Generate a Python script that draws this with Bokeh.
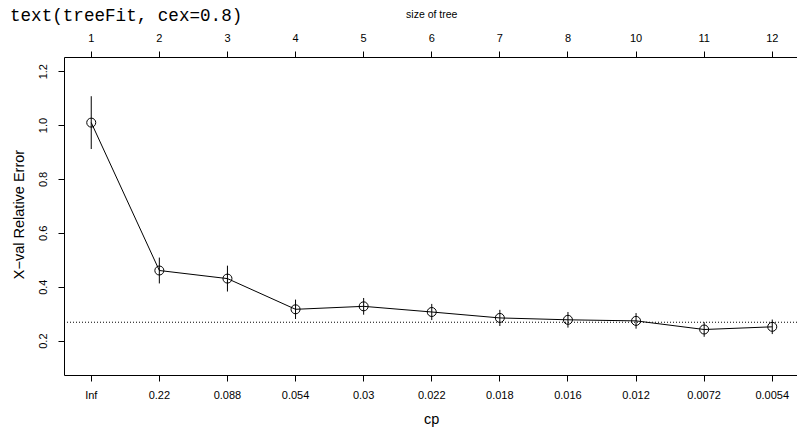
import math
from bokeh.plotting import figure
from bokeh.models import Range1d, FixedTicker, LinearAxis
from bokeh.core.properties import value
from bokeh.embed import file_html
from bokeh.resources import INLINE

# ---- data (rpart plotcp) ----
cp_labels = ["Inf", "0.22", "0.088", "0.054", "0.03", "0.022", "0.018",
             "0.016", "0.012", "0.0072", "0.0054"]
tree_size = ["1", "2", "3", "4", "5", "6", "7", "8", "10", "11", "12"]
xerror = [1.011, 0.462, 0.432, 0.318, 0.329, 0.308, 0.286, 0.279, 0.275, 0.243, 0.253]
xstd = [0.098, 0.048, 0.048, 0.036, 0.031, 0.030, 0.030, 0.029, 0.029, 0.027, 0.027]
y_ticks = [0.2, 0.4, 0.6, 0.8, 1.0, 1.2]
y_tick_labels = ["0.2", "0.4", "0.6", "0.8", "1.0", "1.2"]
title_text = "text(treeFit, cex=0.8)"
x_title = "cp"
y_title = "X\u2212val Relative Error"
top_title = "size of tree"

pos = list(range(1, len(cp_labels) + 1))
upper = [e + s for e, s in zip(xerror, xstd)]
lower = [e - s for e, s in zip(xerror, xstd)]

# plot region as R computes it (plotcp ylim, 4% axis extension)
ylo = min(lower) - 0.1
yhi = max(upper) + 0.1
ypad = 0.04 * (yhi - ylo)
y_usr = (ylo - ypad, yhi + ypad)
xpad = 0.04 * (pos[-1] - pos[0])
x_usr = (pos[0] - xpad, pos[-1] + xpad)
imin = xerror.index(min(xerror))
threshold = xerror[imin] + xstd[imin]

# device layout (pixels): canvas and R's plot-region box
W, H = 797, 428
BOX_L, BOX_R, BOX_T, BOX_B = 63.5, 799.0, 57.0, 375.0
sx = (BOX_R - BOX_L) / (x_usr[1] - x_usr[0])
sy = (BOX_B - BOX_T) / (y_usr[1] - y_usr[0])
x_range = Range1d(x_usr[0] - BOX_L / sx, x_usr[0] + (W - BOX_L) / sx)
y_range = Range1d(y_usr[0] - (H - BOX_B) / sy, y_usr[1] + BOX_T / sy)

SANS = "Liberation Sans"
MONO = "Liberation Mono"

p = figure(width=W, height=H, output_backend="svg", toolbar_location=None,
           x_range=x_range, y_range=y_range, min_border=0,
           outline_line_color=None)
p.xgrid.visible = False
p.ygrid.visible = False
p.background_fill_color = "white"
p.border_fill_color = "white"


def style_axis(ax, standoff):
    ax.axis_line_color = "black"
    ax.axis_line_width = 1
    ax.major_tick_line_color = "black"
    ax.major_tick_out = 6
    ax.major_tick_in = 0
    ax.minor_tick_line_color = None
    ax.major_label_text_font = SANS
    ax.major_label_text_font_size = "11px"
    ax.major_label_text_color = "black"
    ax.major_label_standoff = standoff


# bottom axis (cp), drawn along the bottom of R's box
xa = p.xaxis[0]
style_axis(xa, 7)
xa.ticker = FixedTicker(ticks=pos)
xa.major_label_overrides = {i: l for i, l in zip(pos, cp_labels)}
xa.fixed_location = y_usr[0]
xa.bounds = x_usr

# left axis
ya = p.yaxis[0]
style_axis(ya, 11)
ya.ticker = FixedTicker(ticks=y_ticks)
ya.major_label_overrides = {t: l for t, l in zip(y_ticks, y_tick_labels)}
ya.major_label_orientation = "vertical"
ya.fixed_location = x_usr[0]
ya.bounds = y_usr

# top axis (size of tree)
ta = LinearAxis()
style_axis(ta, 10)
ta.ticker = FixedTicker(ticks=pos)
ta.major_label_overrides = {i: l for i, l in zip(pos, tree_size)}
ta.fixed_location = y_usr[1]
ta.bounds = x_usr
p.add_layout(ta, "above")

# dotted 1-SE reference line across the plot region
p.segment(x0=[x_usr[0]], y0=[threshold], x1=[x_usr[1]], y1=[threshold],
          line_color="black", line_width=1, line_dash="1 2")

# error bars, line and points
p.segment(x0=pos, y0=lower, x1=pos, y1=upper, line_color="black", line_width=1)
p.line(pos, xerror, line_color="black", line_width=1)
p.scatter(pos, xerror, marker="circle", size=9, fill_color=None,
          line_color="black", line_width=1)

# axis titles
xmid = (x_usr[0] + x_usr[1]) / 2
ymid = (y_usr[0] + y_usr[1]) / 2
p.text(x=[xmid], y=[y_usr[0]], text=[x_title], y_offset=43.8,
       text_font=value(SANS), text_font_size=value("14.5px"),
       text_color="black", text_align="center", text_baseline="alphabetic")
p.text(x=[x_usr[0]], y=[ymid], text=[y_title], x_offset=-45.5, y_offset=-2,
       angle=math.pi / 2, text_font=value(SANS), text_font_size=value("14.5px"),
       text_color="black", text_align="center", text_baseline="alphabetic")
p.text(x=[xmid], y=[y_usr[1]], text=[top_title], y_offset=-44.0,
       text_font=value(SANS), text_font_size=value("10.5px"),
       text_color="black", text_align="center", text_baseline="alphabetic")

# leftover text from the previous plot at the top of the device
p.text(x=[x_usr[0]], y=[y_usr[1]], text=[title_text], x_offset=-54, y_offset=-41.5,
       text_font=value(MONO), text_font_size=value("17.6px"),
       text_color="black", text_align="left", text_baseline="alphabetic")

open("out.html", "w").write(file_html(p, INLINE))
